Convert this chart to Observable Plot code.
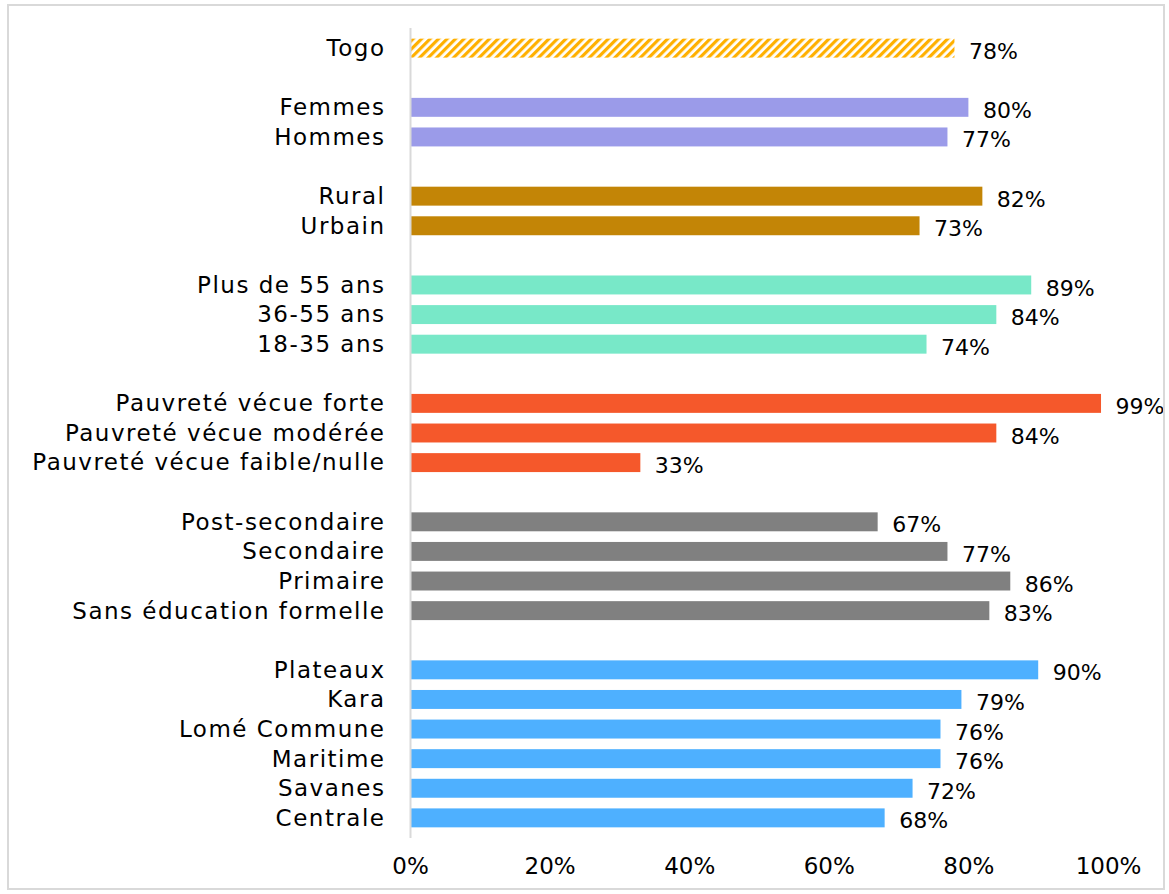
<!DOCTYPE html>
<html>
<head>
<meta charset="utf-8">
<script src="https://cdn.jsdelivr.net/npm/d3@7"></script>
<script src="https://cdn.jsdelivr.net/npm/@observablehq/plot@0.6"></script>
<style>
  html, body { margin: 0; padding: 0; background: #fff; }
  #wrap { position: relative; width: 1169px; height: 894px; }
  #border { position: absolute; left: 7px; top: 4px; width: 1158px; height: 886px; border: 2px solid #d9d9d9; box-sizing: border-box; pointer-events: none; }
  svg { font-family: "DejaVu Sans", sans-serif; }
  svg g[aria-label="y-axis tick label"] text { letter-spacing: 1.5px; }
</style>
</head>
<body>
<div id="wrap"><div id="border"></div></div>
<script>
// Data (top to bottom)
const categories = [
  "Togo",
  "Femmes", "Hommes",
  "Rural", "Urbain",
  "Plus de 55 ans", "36-55 ans", "18-35 ans",
  "Pauvreté vécue forte", "Pauvreté vécue modérée", "Pauvreté vécue faible/nulle",
  "Post-secondaire", "Secondaire", "Primaire", "Sans éducation formelle",
  "Plateaux", "Kara", "Lomé Commune", "Maritime", "Savanes", "Centrale"
];
const values = [78, 80, 77, 82, 73, 89, 84, 74, 99, 84, 33, 67, 77, 86, 83, 90, 79, 76, 76, 72, 68];
const groups = [
  "togo",
  "genre", "genre",
  "milieu", "milieu",
  "age", "age", "age",
  "pauvrete", "pauvrete", "pauvrete",
  "education", "education", "education", "education",
  "region", "region", "region", "region", "region", "region"
];
const groupNames = ["togo", "genre", "milieu", "age", "pauvrete", "education", "region"];
const groupColors = ["url(#hatch)", "#9b9be9", "#c38506", "#78e8c8", "#f5582b", "#808080", "#4eb0ff"];
const xTicks = [0, 20, 40, 60, 80, 100];

const data = categories.map((c, i) => ({category: c, value: values[i], group: groups[i]}));

// y domain with blank spacer rows between groups
const domain = [];
let gapN = 0;
data.forEach((d, i) => {
  if (i > 0 && d.group !== data[i - 1].group) domain.push("__gap" + (gapN++));
  domain.push(d.category);
});
const colorOf = Object.fromEntries(groupNames.map((g, i) => [g, groupColors[i]]));

const chart = Plot.plot({
  width: 1169,
  height: 894,
  marginLeft: 410,
  marginRight: 61,
  marginTop: 28,
  marginBottom: 56,
  style: {fontSize: "23px", color: "#000", background: "transparent"},
  x: {domain: [0, 100], ticks: xTicks, tickFormat: d => d + "%", tickSize: 0, tickPadding: 19, label: null, line: false, fontSize: 22},
  y: {domain, paddingInner: 0.36, paddingOuter: 0.36, round: false, tickSize: 0, tickPadding: 25, label: null, tickFormat: d => d.startsWith("__gap") ? "" : d},
  color: {type: "identity"},
  marks: [
    Plot.barX(data, {y: "category", x: "value", fill: d => colorOf[d.group]}),
    Plot.ruleX([0], {stroke: "#d9d9d9", strokeWidth: 2}),
    Plot.text(data, {y: "category", x: "value", text: d => d.value + "%", textAnchor: "start", dx: 14, dy: 3, fontSize: 22, fill: "#000"})
  ]
});

// hatch pattern for the national bar
const defs = d3.select(chart).insert("defs", ":first-child");
const pat = defs.append("pattern")
  .attr("id", "hatch").attr("patternUnits", "userSpaceOnUse")
  .attr("width", 6).attr("height", 6).attr("patternTransform", "rotate(45)");
pat.append("rect").attr("width", 6).attr("height", 6).attr("fill", "#fff");
pat.append("rect").attr("width", 3.2).attr("height", 6).attr("fill", "#ffb000");

document.getElementById("wrap").prepend(chart);
</script>
</body>
</html>
